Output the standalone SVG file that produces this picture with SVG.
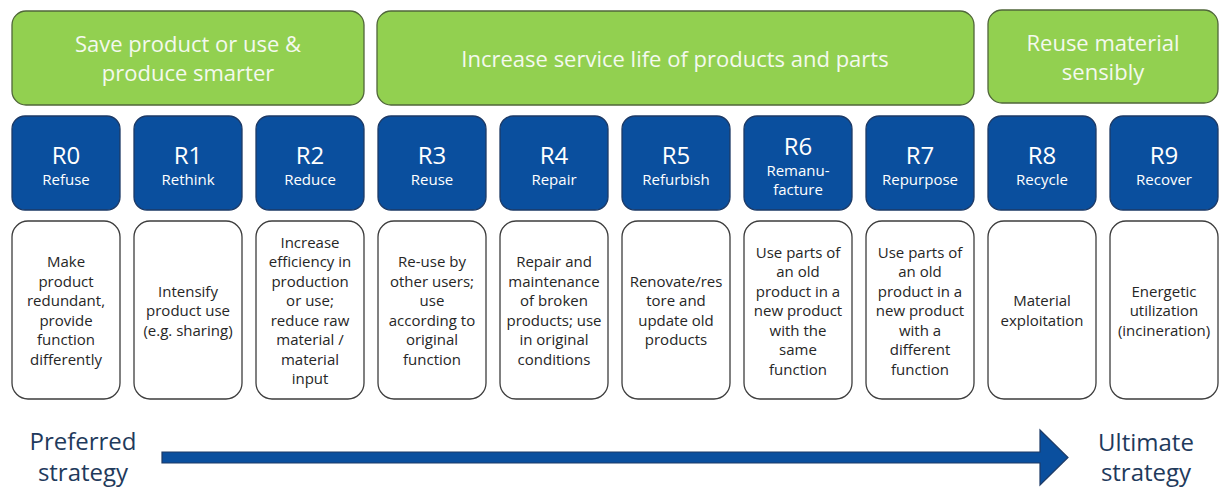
<svg xmlns="http://www.w3.org/2000/svg" width="1220" height="488" viewBox="0 0 1220 488">
  <style>
    text { font-family: "Open Sans", "Noto Sans", "Liberation Sans", sans-serif; text-anchor: middle; }
    .grp { fill: #92D050; stroke: #50663a; stroke-width: 1.3; }
    .grp-t { fill: #f4f9ee; font-size: 22px; }
    .code { fill: #0A4F9E; stroke: #1d3a66; stroke-width: 1.3; }
    .code-n { fill: #ffffff; font-size: 24px; }
    .code-l { fill: #ffffff; font-size: 15px; }
    .desc { fill: #ffffff; stroke: #3d3d3d; stroke-width: 1.3; }
    .desc-t { fill: #262626; font-size: 15px; }
    .end-t { fill: #1f3a5c; font-size: 24px; }
    .arrow { fill: #0A4F9E; stroke: #1d3a66; stroke-width: 1.2; }
  </style>
  <rect width="1220" height="488" fill="#ffffff"/>

  <!-- strategy groups -->
  <g id="group-smarter">
    <rect class="grp" x="12" y="11" width="352" height="94" rx="14"/>
    <text class="grp-t" x="188" y="52">Save product or use &amp;</text>
    <text class="grp-t" x="188" y="81">produce smarter</text>
  </g>
  <g id="group-lifetime">
    <rect class="grp" x="377" y="11" width="597" height="94" rx="14"/>
    <text class="grp-t" x="675" y="67">Increase service life of products and parts</text>
  </g>
  <g id="group-material">
    <rect class="grp" x="988" y="10" width="230" height="93" rx="14"/>
    <text class="grp-t" x="1103" y="51">Reuse material</text>
    <text class="grp-t" x="1103" y="80">sensibly</text>
  </g>

  <!-- R-codes -->
  <g id="r0">
    <rect class="code" x="12" y="116" width="108" height="94" rx="13"/>
    <text class="code-n" x="66" y="164">R0</text>
    <text class="code-l" x="66" y="185">Refuse</text>
    <rect class="desc" x="12" y="221" width="108" height="178" rx="16"/>
    <text class="desc-t" y="267"><tspan x="66">Make</tspan><tspan x="66" dy="19.5">product</tspan><tspan x="66" dy="19.5">redundant,</tspan><tspan x="66" dy="19.5">provide</tspan><tspan x="66" dy="19.5">function</tspan><tspan x="66" dy="19.5">differently</tspan></text>
  </g>
  <g id="r1">
    <rect class="code" x="134" y="116" width="108" height="94" rx="13"/>
    <text class="code-n" x="188" y="164">R1</text>
    <text class="code-l" x="188" y="185">Rethink</text>
    <rect class="desc" x="134" y="221" width="108" height="178" rx="16"/>
    <text class="desc-t" y="296.5"><tspan x="188">Intensify</tspan><tspan x="188" dy="19.5">product use</tspan><tspan x="188" dy="19.5">(e.g. sharing)</tspan></text>
  </g>
  <g id="r2">
    <rect class="code" x="256" y="116" width="108" height="94" rx="13"/>
    <text class="code-n" x="310" y="164">R2</text>
    <text class="code-l" x="310" y="185">Reduce</text>
    <rect class="desc" x="256" y="221" width="108" height="178" rx="16"/>
    <text class="desc-t" y="247.75"><tspan x="310">Increase</tspan><tspan x="310" dy="19.5">efficiency in</tspan><tspan x="310" dy="19.5">production</tspan><tspan x="310" dy="19.5">or use;</tspan><tspan x="310" dy="19.5">reduce raw</tspan><tspan x="310" dy="19.5">material /</tspan><tspan x="310" dy="19.5">material</tspan><tspan x="310" dy="19.5">input</tspan></text>
  </g>
  <g id="r3">
    <rect class="code" x="378" y="116" width="108" height="94" rx="13"/>
    <text class="code-n" x="432" y="164">R3</text>
    <text class="code-l" x="432" y="185">Reuse</text>
    <rect class="desc" x="378" y="221" width="108" height="178" rx="16"/>
    <text class="desc-t" y="267"><tspan x="432">Re-use by</tspan><tspan x="432" dy="19.5">other users;</tspan><tspan x="432" dy="19.5">use</tspan><tspan x="432" dy="19.5">according to</tspan><tspan x="432" dy="19.5">original</tspan><tspan x="432" dy="19.5">function</tspan></text>
  </g>
  <g id="r4">
    <rect class="code" x="500" y="116" width="108" height="94" rx="13"/>
    <text class="code-n" x="554" y="164">R4</text>
    <text class="code-l" x="554" y="185">Repair</text>
    <rect class="desc" x="500" y="221" width="108" height="178" rx="16"/>
    <text class="desc-t" y="267"><tspan x="554">Repair and</tspan><tspan x="554" dy="19.5">maintenance</tspan><tspan x="554" dy="19.5">of broken</tspan><tspan x="554" dy="19.5">products; use</tspan><tspan x="554" dy="19.5">in original</tspan><tspan x="554" dy="19.5">conditions</tspan></text>
  </g>
  <g id="r5">
    <rect class="code" x="622" y="116" width="108" height="94" rx="13"/>
    <text class="code-n" x="676" y="164">R5</text>
    <text class="code-l" x="676" y="185">Refurbish</text>
    <rect class="desc" x="622" y="221" width="108" height="178" rx="16"/>
    <text class="desc-t" y="286.75"><tspan x="676">Renovate/res</tspan><tspan x="676" dy="19.5">tore and</tspan><tspan x="676" dy="19.5">update old</tspan><tspan x="676" dy="19.5">products</tspan></text>
  </g>
  <g id="r6">
    <rect class="code" x="744" y="116" width="108" height="94" rx="13"/>
    <text class="code-n" x="798" y="155">R6</text>
    <text class="code-l" x="798" y="176">Remanu-</text>
    <text class="code-l" x="798" y="195">facture</text>
    <rect class="desc" x="744" y="221" width="108" height="178" rx="16"/>
    <text class="desc-t" y="257.5"><tspan x="798">Use parts of</tspan><tspan x="798" dy="19.5">an old</tspan><tspan x="798" dy="19.5">product in a</tspan><tspan x="798" dy="19.5">new product</tspan><tspan x="798" dy="19.5">with the</tspan><tspan x="798" dy="19.5">same</tspan><tspan x="798" dy="19.5">function</tspan></text>
  </g>
  <g id="r7">
    <rect class="code" x="866" y="116" width="108" height="94" rx="13"/>
    <text class="code-n" x="920" y="164">R7</text>
    <text class="code-l" x="920" y="185">Repurpose</text>
    <rect class="desc" x="866" y="221" width="108" height="178" rx="16"/>
    <text class="desc-t" y="257.5"><tspan x="920">Use parts of</tspan><tspan x="920" dy="19.5">an old</tspan><tspan x="920" dy="19.5">product in a</tspan><tspan x="920" dy="19.5">new product</tspan><tspan x="920" dy="19.5">with a</tspan><tspan x="920" dy="19.5">different</tspan><tspan x="920" dy="19.5">function</tspan></text>
  </g>
  <g id="r8">
    <rect class="code" x="988" y="116" width="108" height="94" rx="13"/>
    <text class="code-n" x="1042" y="164">R8</text>
    <text class="code-l" x="1042" y="185">Recycle</text>
    <rect class="desc" x="988" y="221" width="108" height="178" rx="16"/>
    <text class="desc-t" y="306.25"><tspan x="1042">Material</tspan><tspan x="1042" dy="19.5">exploitation</tspan></text>
  </g>
  <g id="r9">
    <rect class="code" x="1110" y="116" width="108" height="94" rx="13"/>
    <text class="code-n" x="1164" y="164">R9</text>
    <text class="code-l" x="1164" y="185">Recover</text>
    <rect class="desc" x="1110" y="221" width="108" height="178" rx="16"/>
    <text class="desc-t" y="296.5"><tspan x="1164">Energetic</tspan><tspan x="1164" dy="19.5">utilization</tspan><tspan x="1164" dy="19.5">(incineration)</tspan></text>
  </g>

  <!-- priority axis -->
  <g id="connectors">
    <path class="arrow" d="M162,452 L1040,452 L1040,430 L1068,457.5 L1040,485 L1040,463 L162,463 Z"/>
  </g>
  <g id="label-preferred">
    <text class="end-t" x="83" y="450">Preferred</text>
    <text class="end-t" x="83" y="481">strategy</text>
  </g>
  <g id="label-ultimate">
    <text class="end-t" x="1146" y="451">Ultimate</text>
    <text class="end-t" x="1146" y="481">strategy</text>
  </g>
</svg>
